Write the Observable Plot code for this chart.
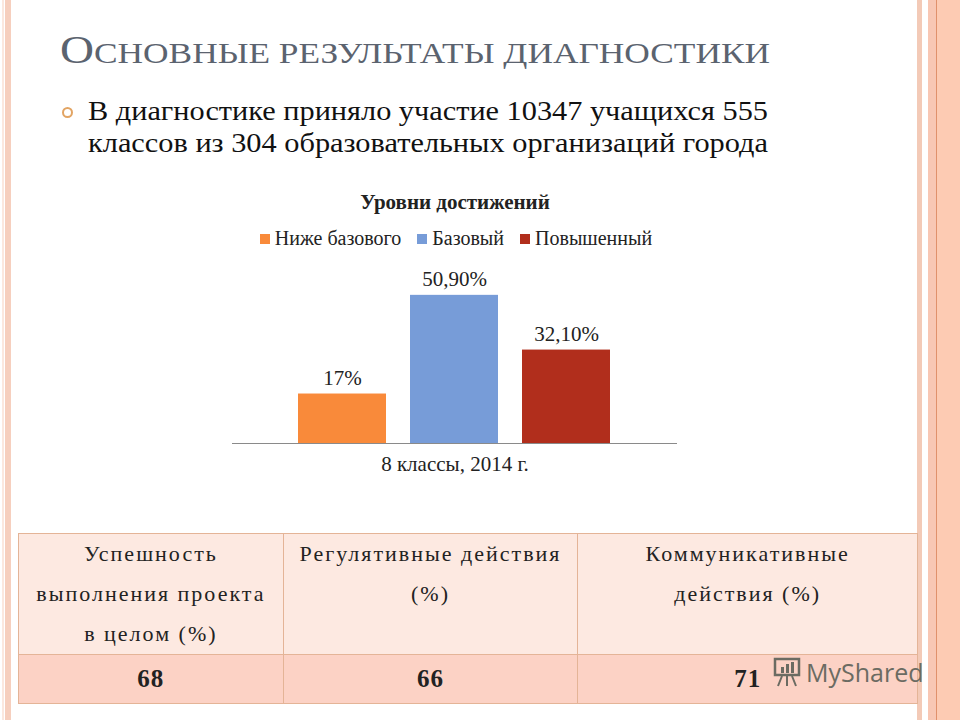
<!DOCTYPE html>
<html>
<head>
<meta charset="utf-8">
<script src="https://cdn.jsdelivr.net/npm/d3@7"></script>
<script src="https://cdn.jsdelivr.net/npm/@observablehq/plot@0.6"></script>
<style>
  html, body { margin: 0; padding: 0; }
  body { width: 960px; height: 720px; position: relative; overflow: hidden; background: #fff; font-family: "Liberation Serif", "DejaVu Serif", serif; }
  .abs { position: absolute; }
  .fit { white-space: nowrap; transform-origin: 0 0; }
  #title { left: 60px; top: 30px; color: #5b636f; line-height: 1; }
  #title .big { font-size: 40px; }
  #title .sc { font-size: 30px; }
  .bl { left: 88px; font-size: 28px; color: #111; line-height: 1; font-family: "Liberation Serif", serif; }
  #bullet { left: 62px; top: 107px; width: 7px; height: 7px; border: 2px solid #e2a463; border-radius: 50%; }
  #ctitle { left: 255px; width: 400px; top: 190px; text-align: center; font-weight: bold; font-size: 21px; color: #222; }
  #legend { left: 200px; width: 512px; top: 227px; display: flex; justify-content: center; gap: 16px; font-size: 20px; color: #222; }
  #legend .it { display: flex; align-items: center; gap: 5px; }
  #legend .sw { width: 10px; height: 10px; display: inline-block; }
  #chart { left: 222px; top: 260px; }
  table { position: absolute; left: 18px; top: 533px; border-collapse: collapse; width: 900px; font-size: 22px; letter-spacing: 2px; color: #222; }
  td { border: 1.5px solid #e4b497; text-align: center; padding: 0; }
  tr.h td { background: #fde9e1; height: 114px; vertical-align: top; line-height: 40px; }
  tr.d td { background: #fcd2c5; height: 48px; font-weight: bold; font-size: 25px; letter-spacing: 1px; }
  .stripe { position: absolute; top: 0; height: 720px; }
  #wm { left: 772px; top: 655px; display: flex; align-items: center; gap: 4px; font-family: "Open Sans", sans-serif; font-size: 25px; color: #6b6b62; }
</style>
</head>
<body>
<div class="stripe" style="left:2px;width:2px;background:#fbe8df"></div>
<div class="stripe" style="left:5px;width:6px;background:#f6cfbe"></div>
<div class="stripe" style="left:917px;width:5px;background:#f3cab7"></div>
<div class="stripe" style="left:928px;width:8px;background:#f8c7b4"></div>
<div class="stripe" style="left:936px;width:1px;background:#e0916c"></div>
<div class="stripe" style="left:937px;width:23px;background:#fdcbb3"></div>

<div id="title" class="abs fit" data-w="710"><span class="big">О</span><span class="sc">СНОВНЫЕ РЕЗУЛЬТАТЫ ДИАГНОСТИКИ</span></div>
<div id="bullet" class="abs"></div>
<div class="abs fit bl" style="top:97px" data-w="680">В диагностике приняло участие 10347 учащихся 555</div>
<div class="abs fit bl" style="top:129px" data-w="680">классов из 304 образовательных организаций города</div>

<div id="ctitle" class="abs">Уровни достижений</div>
<div id="legend" class="abs"></div>
<div id="chart" class="abs"></div>

<table>
  <tr class="h"><td style="width:265px">Успешность<br>выполнения проекта<br>в целом (%)</td><td style="width:295px">Регулятивные действия<br>(%)</td><td style="width:340px">Коммуникативные<br>действия (%)</td></tr>
  <tr class="d" id="drow"></tr>
</table>
<div id="wm" class="abs"><svg width="30" height="32" viewBox="0 0 30 32"><rect x="3" y="3" width="24" height="16" fill="none" stroke="#6b6b62" stroke-width="2.5"/><rect x="9" y="11" width="3" height="6" fill="#6b6b62"/><rect x="14" y="8" width="3" height="9" fill="#6b6b62"/><rect x="19" y="6" width="3" height="11" fill="#6b6b62"/><path d="M10 20 L6 30 M15 20 L15 30 M20 20 L24 30" stroke="#6b6b62" stroke-width="2"/></svg><span>MyShared</span></div>

<script>
const categories = ["Ниже базового", "Базовый", "Повышенный"];
const values = [17, 50.9, 32.1];
const valueLabels = ["17%", "50,90%", "32,10%"];
const colors = ["#f98a3a", "#779cd8", "#b12e1c"];
const axisLabel = "8 классы, 2014 г.";
const tableValues = [68, 66, 71];

const data = categories.map((c, i) => ({category: c, value: values[i], label: valueLabels[i]}));

const legend = document.getElementById("legend");
categories.forEach((c, i) => {
  const it = document.createElement("span");
  it.className = "it";
  it.innerHTML = `<span class="sw" style="background:${colors[i]}"></span><span>${c}</span>`;
  legend.appendChild(it);
});

const plot = Plot.plot({
  width: 465,
  height: 230,
  marginLeft: 10,
  marginRight: 10,
  marginTop: 20,
  marginBottom: 47,
  style: {fontFamily: "Liberation Serif, serif", background: "transparent"},
  x: {domain: categories, paddingInner: 0.21, paddingOuter: 0.59, axis: null},
  y: {domain: [0, 56], axis: null},
  color: {domain: categories, range: colors},
  marks: [
    Plot.barY(data, {x: "category", y: "value", fill: "category"}),
    Plot.ruleY([0], {stroke: "#8a8a8a", strokeWidth: 1.2}),
    Plot.text(data, {x: "category", y: "value", text: "label", dy: -16, fontSize: 21, fill: "#222"}),
    Plot.text([axisLabel], {frameAnchor: "bottom", dy: 27, fontSize: 21, fill: "#222"})
  ]
});
document.getElementById("chart").appendChild(plot);

const drow = document.getElementById("drow");
tableValues.forEach(v => {
  const td = document.createElement("td");
  td.textContent = v;
  drow.appendChild(td);
});

document.querySelectorAll(".fit").forEach(el => {
  const target = +el.dataset.w;
  const w = el.getBoundingClientRect().width;
  if (w > 0) el.style.transform = `scaleX(${target / w})`;
});
</script>
</body>
</html>
